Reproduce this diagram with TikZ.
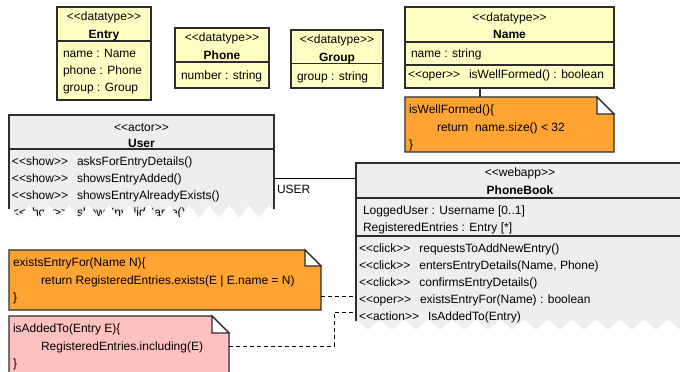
\documentclass[tikz,border=0pt]{standalone}
\usepackage{fontspec}
\setmainfont{Liberation Sans}
\definecolor{dtyellow}{RGB}{255,255,196}
\definecolor{noteorange}{RGB}{255,163,51}
\definecolor{notepink}{RGB}{255,192,192}
\definecolor{classgray}{RGB}{238,238,238}
\definecolor{edgegray}{RGB}{45,45,45}
\newcommand\fs{\fontsize{12}{14}\selectfont}
% kerns keep the doubled angle brackets from turning into guillemets
\newcommand\stereo[1]{\textless\kern0pt\textless#1\textgreater\kern0pt\textgreater}
\newcommand\opline[2]{\stereo{#1}\hspace{9pt}#2}
% note with a folded top-right corner, drawn round a named frame node
\newcommand\dognote[3]{%
  \fill[#2] (#1.north west) -- ([xshift=-#3]#1.north east) -- ([yshift=-#3]#1.north east)
    -- (#1.south east) -- (#1.south west) -- cycle;
  \draw[umlline] (#1.south west) -- (#1.north west) -- ([xshift=-#3]#1.north east)
    -- ([yshift=-#3]#1.north east) -- (#1.south east) -- cycle;
  \filldraw[umlline, fill=white] ([xshift=-#3]#1.north east) -- ([xshift=-#3,yshift=-#3]#1.north east)
    -- ([yshift=-#3]#1.north east) -- cycle;}
\begin{document}
\begin{tikzpicture}[x=1pt, y=-1pt,
  umlline/.style={draw=edgegray, line width=1.1pt},
  frame/.style={rectangle, inner sep=0pt, outer sep=0pt, anchor=north west},
  dtbox/.style={frame, umlline, fill=dtyellow},
  txt/.style={inner sep=0pt, outer sep=0pt, text height=8.6pt, text depth=0pt, font=\fs},
  lbl/.style={txt, anchor=west},
  ctr/.style={txt, anchor=center},
  ttl/.style={txt, anchor=center, font=\fs\bfseries},
  conn/.style={draw=black, line width=0.9pt},
  dconn/.style={conn, dash pattern=on 4pt off 3pt}]
\useasboundingbox (0,0) rectangle (680,372);
\clip (0,0) rectangle (680,372);

% ---------- datatypes ----------
\node[dtbox, minimum width=94pt, minimum height=93pt] (entry) at (57,7) {};
\draw[umlline] (entry.west |- 0,41) -- (entry.east |- 0,41);
\node[ctr] (entryS) at (104,16) {\stereo{datatype}};
\node[ttl] (entryT) at (104,34) {Entry};
\node[lbl] (entryA) at (63,53) {name : Name};
\node[lbl] (entryB) at (63,70) {phone : Phone};
\node[lbl] (entryC) at (63,87) {group : Group};

\node[dtbox, minimum width=94pt, minimum height=60pt] (phone) at (175,28) {};
\draw[umlline] (phone.west |- 0,62) -- (phone.east |- 0,62);
\node[ctr] (phoneS) at (222,37) {\stereo{datatype}};
\node[ttl] (phoneT) at (222,55) {Phone};
\node[lbl] (phoneA) at (181,75) {number : string};

\node[dtbox, minimum width=92pt, minimum height=58pt] (group) at (291,30) {};
\draw[umlline] (group.west |- 0,63.5) -- (group.east |- 0,63.5);
\node[ctr] (groupS) at (337,39) {\stereo{datatype}};
\node[ttl] (groupT) at (337,57) {Group};
\node[lbl] (groupA) at (297,76) {group : string};

\node[dtbox, minimum width=209pt, minimum height=81pt] (name) at (405,7) {};
\draw[umlline] (name.west |- 0,42) -- (name.east |- 0,42);
\draw[umlline] (name.west |- 0,65) -- (name.east |- 0,65);
\node[ctr] (nameS) at (509.5,17) {\stereo{datatype}};
\node[ttl] (nameT) at (509.5,34) {Name};
\node[lbl] (nameA) at (411,53) {name : string};
\node[lbl] (nameO) at (408,74) {\opline{oper}{isWellFormed() : boolean}};

% ---------- notes ----------
\node[frame, minimum width=209pt, minimum height=55pt] (noteA) at (405,97) {};
\dognote{noteA}{noteorange}{17pt}
\node[lbl] (noteA1) at (409,109) {isWellFormed()\{};
\node[lbl] (noteA2) at (437,127) {return\ \ name.size() \textless\ 32};
\node[lbl] (noteA3) at (409,144) {\}};

\node[frame, minimum width=312pt, minimum height=60pt] (noteB) at (9,250) {};
\dognote{noteB}{noteorange}{16pt}
\node[lbl] (noteB1) at (13,262) {existsEntryFor(Name N)\{};
\node[lbl] (noteB2) at (41,280) {return RegisteredEntries.exists(E | E.name = N)};
\node[lbl] (noteB3) at (13,297) {\}};

\node[frame, minimum width=220pt, minimum height=70pt] (noteC) at (9,316) {};
\dognote{noteC}{notepink}{17pt}
\node[lbl] (noteC1) at (13,328) {isAddedTo(Entry E)\{};
\node[lbl] (noteC2) at (41,346) {RegisteredEntries.including(E)};
\node[lbl] (noteC3) at (13,363) {\}};

% ---------- actor User (torn at the bottom) ----------
\node[frame, fill=classgray, minimum width=265pt, minimum height=103pt] (user) at (9,115) {};
\node[ctr] (userS) at (141.5,127) {\stereo{actor}};
\node[ttl] (userT) at (141.5,143) {User};
\node[lbl] (userM1) at (12,161) {\opline{show}{asksForEntryDetails()}};
\node[lbl] (userM2) at (12,178) {\opline{show}{showsEntryAdded()}};
\node[lbl] (userM3) at (12,195) {\opline{show}{showsEntryAlreadyExists()}};
\node[lbl] (userM4) at (12,212) {\opline{show}{showsInvalidName()}};
\fill[white] (7,224) -- (7,205)
  \foreach \k in {0,...,13} { -- ({9+20*\k},205) -- ({19+20*\k},218) } -- (276,205) -- (276,224) -- cycle;
\draw[umlline] (user.west |- 0,209) -- (user.north west) -- (user.north east) -- (user.east |- 0,209);
\draw[umlline] (user.west |- 0,149) -- (user.east |- 0,149);

% ---------- webapp PhoneBook (torn at the bottom) ----------
\node[frame, fill=classgray, minimum width=328pt, minimum height=167pt] (phonebook) at (356,163) {};
\node[ctr] (pbS) at (520,172) {\stereo{webapp}};
\node[ttl] (pbT) at (520,190) {PhoneBook};
\node[lbl] (pbA1) at (363,210) {LoggedUser : Username [0..1]};
\node[lbl] (pbA2) at (363,227) {RegisteredEntries : Entry [*]};
\node[lbl] (pbM1) at (359,248) {\opline{click}{requestsToAddNewEntry()}};
\node[lbl] (pbM2) at (359,265) {\opline{click}{entersEntryDetails(Name, Phone)}};
\node[lbl] (pbM3) at (359,282) {\opline{click}{confirmsEntryDetails()}};
\node[lbl] (pbM4) at (359,299) {\opline{oper}{existsEntryFor(Name) : boolean}};
\node[lbl] (pbM5) at (359,316) {\opline{action}{IsAddedTo(Entry)}};
\fill[white] (354,340) -- (354,320)
  \foreach \k in {0,...,14} { -- ({356+24*\k},320) -- ({368+24*\k},330) } -- (700,320) -- (700,340) -- cycle;
\draw[umlline] (phonebook.west |- 0,321) -- (phonebook.north west) -- (phonebook.north east) -- (phonebook.east |- 0,321);
\draw[umlline] (phonebook.west |- 0,198) -- (phonebook.east |- 0,198);
\draw[umlline] (phonebook.west |- 0,236) -- (phonebook.east |- 0,236);

% ---------- connectors ----------
\coordinate (nx) at (480,0);
\draw[umlline] (name.south -| nx) -- (noteA.north -| nx);

\coordinate (uy) at (0,178);
\draw[conn] (user.east |- uy) -- (phonebook.west |- uy);
\node[txt, anchor=west] (userRole) at (277,189) {USER};

\coordinate (by) at (0,296);
\draw[dconn] (noteB.east |- by) -- (phonebook.west |- by);

\coordinate (cy) at (0,346);
\coordinate (cbend) at (334,312);
\draw[dconn] (noteC.east |- cy) -| (cbend) -- (phonebook.west |- cbend);
\end{tikzpicture}
\end{document}
